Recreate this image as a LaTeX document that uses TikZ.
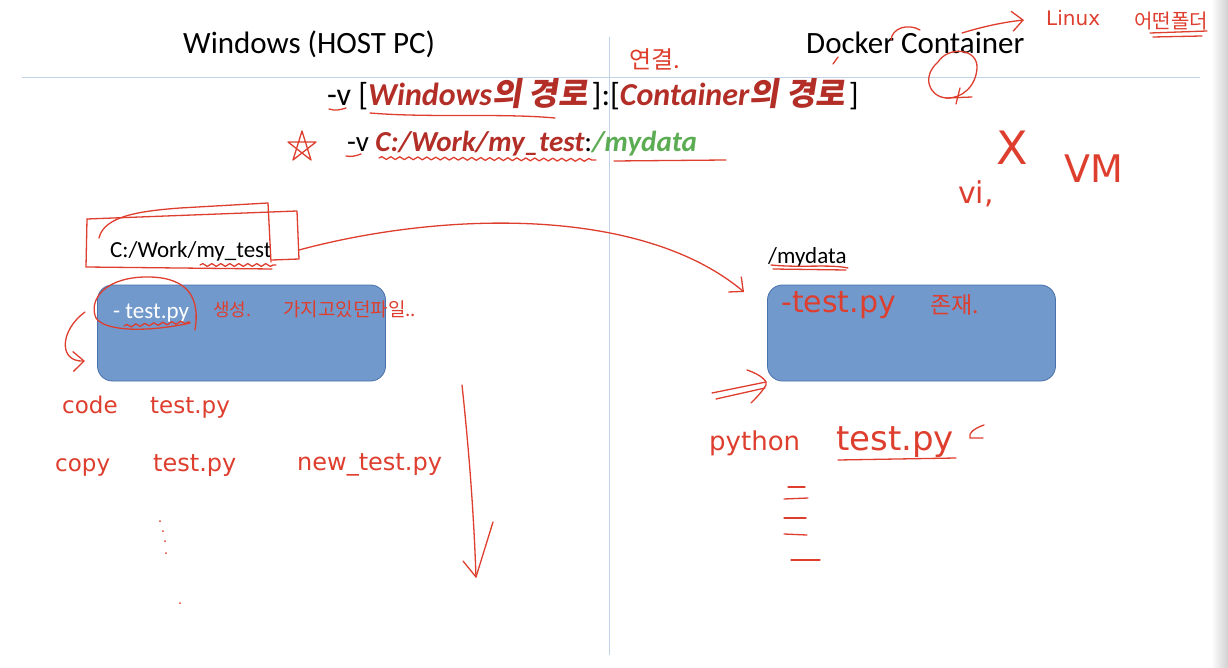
\documentclass[tikz,border=0pt]{standalone}
\usepackage{fontspec}
\setmainfont{Carlito}
\newfontfamily\krfont{Noto Sans CJK KR}
\newfontfamily\krsl{Noto Sans CJK KR}[FakeSlant=0.16]
\newfontfamily\hwfont{DejaVu Sans}
\usetikzlibrary{arrows.meta,decorations.pathmorphing}
\definecolor{hwred}{RGB}{222,62,46}
\definecolor{sred}{RGB}{178,46,38}
\definecolor{sgreen}{RGB}{92,172,84}
\definecolor{boxblue}{RGB}{114,153,204}
\definecolor{boxedge}{RGB}{72,112,170}
\definecolor{rule}{RGB}{192,211,232}
\tikzset{
  slide/.style={inner sep=0pt, anchor=base west, text=black},
  hwtext/.style={inner sep=0pt, anchor=base west, text=hwred, font=\hwfont\fontsize{#1}{#1}\selectfont},
  hwkr/.style={inner sep=0pt, anchor=base west, text=hwred, font=\krfont\fontsize{#1}{#1}\selectfont},
  hw/.style={draw=hwred, line width=1.3pt, line cap=round, line join=round},
  hwarrow/.style={hw, -{Straight Barb[length=11pt,width=20pt,line width=1.3pt]}},
  folderbox/.style={draw=boxedge, line width=0.8pt, fill=boxblue, rounded corners=15pt, minimum width=288pt, minimum height=96pt, inner sep=0pt},
  wavy/.style={hw, decorate, decoration={snake, segment length=9pt, amplitude=1.4pt}}
}
\begin{document}
\begin{tikzpicture}[x=1pt,y=-1pt]
\useasboundingbox (0,0) rectangle (1228,668);
\fill[white] (0,0) rectangle (1228,668);
\shade[left color=white, right color=black!18] (1211,0) rectangle (1228,668);

% slide rules
\draw[rule, line width=1pt] (22,78) -- (1200,78);
\draw[rule, line width=1pt] (609,37) -- (609,655);

% headers
\node[slide, font=\fontsize{31}{36}\selectfont] (hwin) at (183,54) {Windows (HOST PC)};
\node[slide, font=\fontsize{31}{36}\selectfont] (hdock) at (806,54) {Docker Container};

% command lines
\node[slide, font=\fontsize{32}{38}\selectfont] (cmd1) at (327,106)
  {-v [\textcolor{sred}{\bfseries\itshape Windows{\krsl\bfseries 의 경로}}\kern4pt]:[\textcolor{sred}{\bfseries\itshape Container{\krsl\bfseries 의 경로}}\kern4pt]};
\node[slide, font=\fontsize{29}{34}\selectfont] (cmd2) at (347,152)
  {-v \textcolor{sred}{\bfseries\itshape C:/Work/my\_test}:\textcolor{sgreen}{\bfseries\itshape /mydata}};

% folders
\node[slide, font=\fontsize{23}{28}\selectfont] (wpath) at (110,258) {C:/Work/my\_test};
\node[slide, font=\fontsize{23}{28}\selectfont] (cpath) at (768,263) {/mydata};
\node[folderbox] (box1) at (241.5,333) {};
\node[folderbox] (box2) at (911.5,333) {};
\node[slide, text=white, font=\fontsize{23}{28}\selectfont] (wfile) at (113,318) {- test.py};

% ---------- handwritten annotations ----------
% top right
\draw[hw] (891,40) .. controls (892,28) and (908,23) .. (920,30);
\draw[hw] (833,64) -- (838,57);
\draw[hw] (938,62) .. controls (948,46) and (978,48) .. (977,68) .. controls (976,86) and (962,99) .. (946,98) .. controls (928,96) and (922,76) .. (938,62);
\draw[hw] (960,88) -- (956,104);
\draw[hw] (946,98) -- (972,97);
\coordinate (linuxA) at (962,33);
\coordinate (linuxB) at (1024,20);
\draw[hwarrow] (linuxA) .. controls (985,26) and (1005,22) .. (linuxB);
\node[hwtext=20] (linux) at (1046,26) {Linux};
\node[hwkr=20] (folder) at (1134,29) {어떤폴더};
\draw[hw] (1150,33) -- (1207,31);
\draw[hw] (1153,37) -- (1202,36);
\node[hwkr=24] (conn) at (629,69) {연결.};

% underlines of the commands
\draw[hw] (329,109) .. controls (335,111) and (340,110) .. (346,108);
\draw[hw] (370,113) .. controls (430,118) and (500,113) .. (555,118);
\draw[hw] (346,156) .. controls (351,157) and (356,156) .. (361,154);
\draw[wavy] (379,158) -- (596,160);
\draw[hw] (614,161) -- (726,160);
% star
\draw[hw] (302,131) -- (311,160) -- (288,142) -- (316,142) -- (293,160) -- cycle;

% vi, X, VM
\node[hwtext=30] (vi) at (958,204) {vi,};
\node[hwtext=46] (xmark) at (996,165) {X};
\node[hwtext=38] (vm) at (1064,183) {VM};

% boxes around C:/Work/my_test
\draw[hw] (87,219) -- (297,211) -- (299,259) -- (272,260);
\draw[hw] (87,219) -- (86,267) -- (272,269);
\draw[hw] (99,238) .. controls (104,216) and (140,211) .. (180,208) -- (268,203) -- (271,262);
\draw[wavy] (200,265) -- (276,265);
\coordinate (curveEnd) at (744,292);
\draw[hwarrow] (299,250) .. controls (440,212) and (640,205) .. (curveEnd);

% circle around test.py
\draw[hw] (195,330) .. controls (200,300) and (190,278) .. (150,277) .. controls (105,276) and (88,300) .. (96,318) .. controls (105,332) and (150,332) .. (190,323);
\draw[wavy] (124,326) -- (190,322);
\node[hwkr=18] (made) at (213,316) {생성.};
\node[hwkr=19] (had) at (283,316) {가지고있던파일..};

% left curved arrow
\coordinate (lcA) at (85,312);
\coordinate (lcB) at (85,361);
\draw[hwarrow] (lcA) .. controls (60,330) and (58,362) .. (lcB);

% commands on the left
\node[hwtext=23] (code) at (62,413) {code};
\node[hwtext=23] (ctest) at (150,413) {test.py};
\node[hwtext=23] (copy) at (55,471) {copy};
\node[hwtext=24] (cptest) at (153,471) {test.py};
\node[hwtext=24] (newtest) at (297,470) {new\_test.py};
\fill[hwred] (160,521) circle (1pt) (163,531) circle (1pt) (165,541) circle (1pt) (166,553) circle (1pt) (180,603) circle (1pt);

% long down arrow
\coordinate (dA) at (462,385);
\coordinate (dB) at (476,577);
\draw[hw] (dA) .. controls (470,460) and (474,520) .. (dB);
\draw[hw] (463,561) -- (dB) -- (493,522);

% right side
\draw[hw] (771,265) .. controls (800,268) and (830,264) .. (848,268);
\draw[hw] (773,269) -- (846,270);
\node[hwtext=30] (rtest) at (781,312) {-test.py};
\node[hwkr=23] (exist) at (930,313) {존재.};
\coordinate (dblA) at (712,393);
\coordinate (dblB) at (766,382);
\draw[hw] (dblA) -- (dblB);
\draw[hw] (716,399) -- (765,388);
\draw[hw] (747,370) .. controls (762,375) and (768,382) .. (766,385) .. controls (762,392) and (756,398) .. (751,403);
\node[hwtext=26] (python) at (709,450) {python};
\node[hwtext=34] (ptest) at (836,450) {test.py};
\draw[hw] (838,460) -- (956,458);
\draw[hw] (984,425) .. controls (975,428) and (968,433) .. (970,438) -- (983,438);
\draw[hw] (788,487) -- (805,487);
\draw[hw] (784,499) -- (808,498);
\draw[hw] (784,518) -- (806,518);
\draw[hw] (784,534) -- (807,535);
\draw[hw] (791,560) -- (820,560);
\end{tikzpicture}
\end{document}
